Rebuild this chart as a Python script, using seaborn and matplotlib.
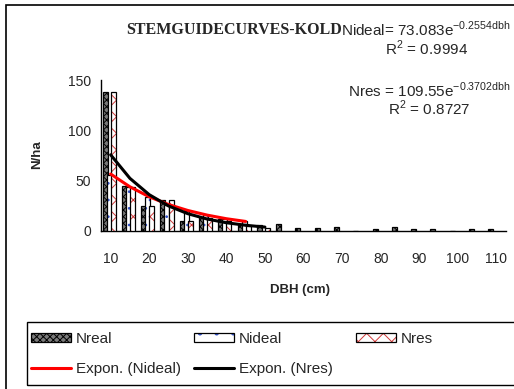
import numpy as np
import pandas as pd
import matplotlib
matplotlib.use("Agg")
import matplotlib.pyplot as plt
import seaborn as sns
from matplotlib.patches import Rectangle, Patch
from matplotlib.lines import Line2D
from matplotlib.legend_handler import HandlerTuple

# ---------------- data ----------------
dbh = [10, 15, 20, 25, 30, 35, 40, 45, 50, 55, 60, 65, 70, 75, 80, 85, 90, 95, 100, 105, 110]
n_real = [138, 45, 25, 31, 10, 14, 12, 6, 6, 7, 3, 3, 4, 0, 1.5, 3.5, 1.5, 1.5, 0, 1.5, 1.5]
n_ideal = [56, 44, 34, 26, 20, 16, 12, 10]
n_res = [138, 44, 25, 31, 10, 13, 10, 5, 3]
trend_ideal = [56.6, 43.9, 34.0, 26.3, 20.4, 15.8, 12.2, 9.5]
trend_res = [75.7, 52.3, 36.1, 24.9, 17.2, 11.9, 8.2, 5.7, 3.9]
x_tick_labels = ["10", "20", "30", "40", "50", "60", "70", "80", "90", "100", "110"]
y_ticks = [0, 50, 100, 150]
series_names = ["Nreal", "Nideal", "Nres"]

rows = []
for name, vals in zip(series_names, [n_real, n_ideal, n_res]):
    for d, v in zip(dbh, vals):
        rows.append({"dbh": str(d), "series": name, "value": v})
df = pd.DataFrame(rows)

# ---------------- style ----------------
sns.set_style("white")
plt.rcParams["font.family"] = ["Liberation Sans", "DejaVu Sans"]
plt.rcParams["mathtext.fontset"] = "custom"
plt.rcParams["mathtext.rm"] = "Liberation Sans"
plt.rcParams["hatch.linewidth"] = 0.7

W, H = 514, 389
fig = plt.figure(figsize=(W / 100, H / 100), dpi=100)
ax = fig.add_axes([101 / W, 1 - 231 / H, (506 - 101) / W, (231 - 80) / H])

order = [str(d) for d in dbh]
sns.barplot(data=df, x="dbh", y="value", hue="series", order=order,
            hue_order=series_names, width=0.78, ax=ax, legend=False,
            palette=["#808080", "white", "white"])

bar_w = 0.26
offsets = [-0.29, -0.08, 0.13]
real_fc = "#7a7a7a"
styles = [
    dict(fc=real_fc, hc="black", hatch="xxxxx", outline=False),
    dict(fc="white", hc="#3050c8", hatch="..", outline=True),
    dict(fc="white", hc="#d03838", hatch="xx", outline=True),
]
for i, cont in enumerate(ax.containers):
    st = styles[i]
    for p in cont.patches:
        cx = p.get_x() + p.get_width() / 2
        cat = round(cx)
        p.set_x(cat + offsets[i] - bar_w / 2)
        p.set_width(bar_w)
        p.set_facecolor(st["fc"])
        p.set_hatch(st["hatch"])
        p.set_zorder(2 + i)
        if st["outline"]:
            p.set_edgecolor(st["hc"])
            p.set_linewidth(0)
            ax.add_patch(Rectangle(p.get_xy(), p.get_width(), p.get_height(),
                                   fill=False, ec="black", lw=0.9, zorder=2.5 + i))
        else:
            p.set_edgecolor("black")
            p.set_linewidth(0.9)

sns.lineplot(x=np.arange(len(trend_ideal)), y=trend_ideal, color="#ff0000",
             lw=2.2, ax=ax, zorder=10)
sns.lineplot(x=np.arange(len(trend_res)), y=trend_res, color="black",
             lw=2.2, ax=ax, zorder=11)

ax.set_xlim(-0.5, len(dbh) - 0.5)
ax.set_ylim(0, 150)
ax.set_yticks(y_ticks)
ax.set_yticklabels([str(v) for v in y_ticks], fontsize=10)
ax.set_xticks(np.arange(-0.5, len(dbh), 1))
ax.set_xticklabels([""] * len(np.arange(-0.5, len(dbh), 1)))
ax.set_xticks(np.arange(0, len(dbh), 2), minor=True)
ax.set_xticklabels(x_tick_labels, minor=True, fontsize=10)
ax.tick_params(axis="x", which="major", direction="out", length=4, width=1, color="black")
ax.tick_params(axis="x", which="minor", length=0, pad=15)
ax.tick_params(axis="y", direction="out", length=4, width=1, color="black", pad=3)
ax.set_xlabel("")
ax.set_ylabel("")
for s in ["top", "right"]:
    ax.spines[s].set_visible(False)
for s in ["left", "bottom"]:
    ax.spines[s].set_color("black")
    ax.spines[s].set_linewidth(1)

# ---------------- texts ----------------
fig.text(234 / W, 1 - 30 / H, "STEMGUIDECURVES-KOLD", ha="center", va="center",
         fontsize=11.5, fontweight="bold", family=["Liberation Serif"])
fig.text(511 / W, 1 - 29 / H, r"Nideal= 73.083e$^{\mathregular{-0.2554dbh}}$",
         ha="right", va="center", fontsize=11)
fig.text(427 / W, 1 - 48 / H, r"R$^{\mathregular{2}}$ = 0.9994",
         ha="center", va="center", fontsize=11)
fig.text(511 / W, 1 - 90 / H, r"Nres = 109.55e$^{\mathregular{-0.3702dbh}}$",
         ha="right", va="center", fontsize=11)
fig.text(429 / W, 1 - 108 / H, r"R$^{\mathregular{2}}$ = 0.8727",
         ha="center", va="center", fontsize=11)
fig.text(37 / W, 1 - 155 / H, "N/ha", rotation=90, ha="center", va="center",
         fontsize=9.5, fontweight="bold")
fig.text(300 / W, 1 - 290 / H, "DBH (cm)", ha="center", va="center",
         fontsize=9.5, fontweight="bold")

# ---------------- frames ----------------
fig.patches.append(Rectangle((6 / W, -0.05), 1.1, 1 - 5 / H + 0.05,
                             transform=fig.transFigure, fill=False,
                             ec="black", lw=1.2))
fig.patches.append(Rectangle((27 / W, 1 - 385 / H), 1.1, (385 - 322) / H,
                             transform=fig.transFigure, fill=False,
                             ec="black", lw=1.0))

# ---------------- legend (three columns) ----------------
h_real = Patch(fc=real_fc, ec="black", hatch="xxxxx", lw=0.9)
h_ideal = (Patch(fc="white", ec="#3050c8", hatch=".", lw=0),
           Patch(fc="none", ec="black", lw=0.9))
h_res = (Patch(fc="white", ec="#d03838", hatch="xx", lw=0),
         Patch(fc="none", ec="black", lw=0.9))
h_ti = Line2D([], [], color="#ff0000", lw=2.2)
h_tr = Line2D([], [], color="black", lw=2.2)
leg_cols = [
    (31, [h_real, h_ti], ["Nreal", "Expon. (Nideal)"]),
    (194, [h_ideal, h_tr], ["Nideal", "Expon. (Nres)"]),
    (356, [h_res], ["Nres"]),
]
for xpx, hs, ls in leg_cols:
    fig.legend(hs, ls, loc="upper left",
               bbox_to_anchor=(xpx / W, 1 - 332 / H), ncol=1, frameon=False,
               fontsize=11, handlelength=2.6, handleheight=0.55, handletextpad=0.35,
               labelspacing=1.05, borderaxespad=0, borderpad=0,
               handler_map={tuple: HandlerTuple(ndivide=1, pad=0)})

fig.savefig("out.png", dpi=100)
